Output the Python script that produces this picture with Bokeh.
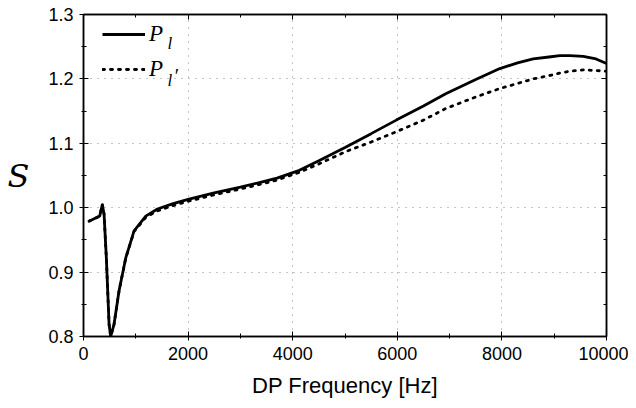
from bokeh.plotting import figure
from bokeh.models import (Range1d, LinearAxis, Legend, LegendItem, FixedTicker,
                          CustomJSTickFormatter, Label)
from bokeh.embed import file_html
from bokeh.resources import INLINE

# P_l (solid)
freq_pl = [105, 233, 310, 360, 393, 437, 489, 520, 584, 680, 808, 967, 1191, 1414,
           1700, 2000, 2500, 3000, 3362, 3700, 4128, 4500, 5010, 5500, 5981, 6500,
           6926, 7500, 7960, 8300, 8598, 8900, 9109, 9300, 9556, 9800, 10000]
s_pl = [0.979, 0.984, 0.987, 1.005, 0.990, 0.922, 0.819, 0.800, 0.819, 0.871, 0.922, 0.964, 0.987, 0.998,
        1.006, 1.013, 1.023, 1.032, 1.039, 1.046, 1.058, 1.073, 1.094, 1.115, 1.136, 1.158,
        1.177, 1.199, 1.216, 1.225, 1.231, 1.234, 1.236, 1.236, 1.235, 1.231, 1.224]

# P_l' (dotted)
freq_plp = [105, 233, 310, 360, 393, 437, 489, 520, 584, 680, 808, 967, 1191, 1414,
            1700, 2000, 2500, 3000, 3362, 3700, 4128, 4500, 5010, 5500, 5981, 6500,
            6926, 7500, 7960, 8300, 8598, 8900, 9109, 9300, 9556, 9800, 10000]
s_plp = [0.979, 0.984, 0.987, 1.005, 0.990, 0.922, 0.819, 0.800, 0.819, 0.871, 0.922, 0.963, 0.985, 0.995,
         1.003, 1.010, 1.020, 1.029, 1.036, 1.043, 1.055, 1.068, 1.087, 1.102, 1.118, 1.136,
         1.154, 1.172, 1.185, 1.193, 1.200, 1.205, 1.209, 1.212, 1.214, 1.213, 1.212]

x_ticks = [0, 2000, 4000, 6000, 8000, 10000]
x_minor = [1000 * i for i in range(11)]
y_ticks = [0.8, 0.9, 1.0, 1.1, 1.2, 1.3]
y_minor = [round(0.8 + 0.05 * i, 2) for i in range(11)]

W, H = 628, 400
p = figure(width=W, height=H, output_backend="svg", toolbar_location=None,
           x_range=Range1d(0, 10000), y_range=Range1d(0.8, 1.3),
           min_border_left=83, min_border_right=22, min_border_top=14, min_border_bottom=64)
p.outline_line_color = "black"
p.outline_line_width = 1.5

l2 = p.line(freq_plp, s_plp, line_color="black", line_width=2.8, line_dash="2 6", line_cap="round")
l1 = p.line(freq_pl, s_pl, line_color="black", line_width=2.8)

for ax in p.xaxis + p.yaxis:
    ax.axis_line_width = 1.5
    ax.major_tick_in = 5
    ax.major_tick_out = 4
    ax.minor_tick_in = 3
    ax.minor_tick_out = 2
    ax.major_label_text_font = "Liberation Sans"
    ax.major_label_text_font_size = "18px"
    ax.major_label_text_color = "black"
    ax.axis_label_text_color = "black"
    ax.axis_label_text_font_style = "normal"

p.xaxis.ticker = FixedTicker(ticks=x_ticks, minor_ticks=x_minor)
p.yaxis.ticker = FixedTicker(ticks=y_ticks, minor_ticks=y_minor)
p.yaxis.formatter = CustomJSTickFormatter(code="return tick.toFixed(1);")
p.xaxis.major_label_standoff = 6
p.yaxis.major_label_standoff = 6
p.xaxis.axis_label = "DP Frequency [Hz]"
p.xaxis.axis_label_text_font = "Liberation Sans"
p.xaxis.axis_label_text_font_size = "22px"
p.xaxis.axis_label_standoff = 10
p.yaxis.axis_label = "S"
p.yaxis.axis_label_text_font = "DejaVu Serif"
p.yaxis.axis_label_text_font_style = "italic"
p.yaxis.axis_label_text_font_size = "32px"
p.yaxis.axis_label_orientation = "horizontal"
p.yaxis.axis_label_standoff = 16

blank = CustomJSTickFormatter(code="return '';")
ax_r = LinearAxis(ticker=FixedTicker(ticks=y_ticks, minor_ticks=y_minor), formatter=blank,
                  major_tick_in=5, major_tick_out=0,
                  minor_tick_in=3, minor_tick_out=0, axis_line_width=1.5)
ax_t = LinearAxis(ticker=FixedTicker(ticks=x_ticks, minor_ticks=x_minor), formatter=blank,
                  major_tick_in=5, major_tick_out=0,
                  minor_tick_in=3, minor_tick_out=0, axis_line_width=1.5)
p.add_layout(ax_r, "right")
p.add_layout(ax_t, "above")

for g in (p.xgrid[0], p.ygrid[0]):
    g.grid_line_color = "#888888"
    g.grid_line_dash = "1 6"
    g.grid_line_width = 1

legend = Legend(items=[LegendItem(label="P", renderers=[l1]),
                       LegendItem(label="P", renderers=[l2])],
                location=(19, 254), background_fill_alpha=0, border_line_alpha=0,
                label_text_font="Liberation Serif", label_text_font_style="italic",
                label_text_font_size="23px", label_text_color="black",
                glyph_width=43, glyph_height=20,
                label_height=20, spacing=9, padding=0, margin=0, label_standoff=4)
p.add_layout(legend)

# subscripts / prime of the legend labels
sub_kw = dict(x_units="screen", y_units="screen", text_font="Liberation Serif",
              text_font_style="italic", text_color="black")
p.add_layout(Label(x=84, y=284, text="l", text_font_size="17px", **sub_kw))
p.add_layout(Label(x=84, y=247, text="l", text_font_size="17px", **sub_kw))
p.add_layout(Label(x=90, y=250, text="\u2032", text_font_size="20px", **sub_kw))

open("out.html", "w").write(file_html(p, INLINE))
